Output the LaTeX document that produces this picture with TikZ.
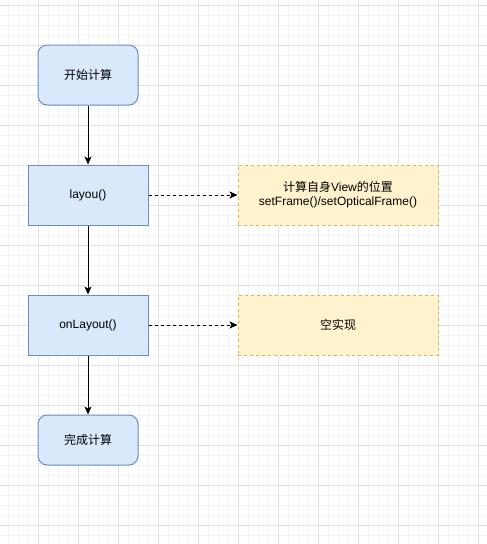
\documentclass[tikz,border=0pt]{standalone}
\usepackage{fontspec}
\setmainfont{Liberation Sans}
\newfontfamily\cjk{Noto Sans CJK SC}
\usetikzlibrary{arrows.meta}
\definecolor{gridminor}{HTML}{F3F3F3}
\definecolor{gridmajor}{HTML}{E2E2E2}
\definecolor{bluefill}{HTML}{DAE8FC}
\definecolor{bluedraw}{HTML}{6C8EBF}
\definecolor{yelfill}{HTML}{FFF2CC}
\definecolor{yeldraw}{HTML}{D6B656}
\tikzset{
  px/.style={x=1pt,y=-1pt},
  bluebox/.style={draw=bluedraw,fill=bluefill,line width=1pt,inner sep=0pt,font=\fontsize{12}{14}\selectfont,align=center},
  roundbox/.style={bluebox,rounded corners=9pt},
  notebox/.style={draw=yeldraw,fill=yelfill,line width=1pt,dash pattern=on 3pt off 3pt,inner sep=0pt,font=\fontsize{12}{14}\selectfont,align=center},
  flow/.style={draw=black,line width=1pt,-{Stealth[length=8pt,width=7pt,inset=2pt]}},
  dflow/.style={flow,dash pattern=on 3pt off 3pt}
}
\begin{document}
\begin{tikzpicture}[px]
\useasboundingbox (0,0) rectangle (487,544);
\fill[white] (0,0) rectangle (487,544);
% minor grid
\foreach \x in {8,18,...,486} \draw[gridminor,line width=1pt] (\x,0) -- (\x,544);
\foreach \y in {5,15,...,543} \draw[gridminor,line width=1pt] (0,\y) -- (487,\y);
% major grid
\foreach \x in {38,78,...,486} \draw[gridmajor,line width=1pt] (\x,0) -- (\x,544);
\foreach \y in {5,45,...,543} \draw[gridmajor,line width=1pt] (0,\y) -- (487,\y);
% nodes
\node[roundbox,minimum width=100pt,minimum height=60pt] (start) at (88,75) {\cjk 开始计算};
\node[bluebox,minimum width=120pt,minimum height=60pt] (layou) at (88,195) {layou()};
\node[notebox,minimum width=200pt,minimum height=60pt] (note1) at (338,195) {{\cjk 计算自身}View{\cjk 的位置}\\setFrame()/setOpticalFrame()};
\node[bluebox,minimum width=120pt,minimum height=60pt] (onlay) at (88,325) {onLayout()};
\node[notebox,minimum width=200pt,minimum height=60pt] (note2) at (338,325) {\cjk 空实现};
\node[roundbox,minimum width=100pt,minimum height=50pt] (done) at (88,440) {\cjk 完成计算};
% connectors
\draw[flow] (start) -- (layou);
\draw[flow] (layou) -- (onlay);
\draw[flow] (onlay) -- (done);
\draw[dflow] (layou) -- (note1);
\draw[dflow] (onlay) -- (note2);
\end{tikzpicture}
\end{document}
